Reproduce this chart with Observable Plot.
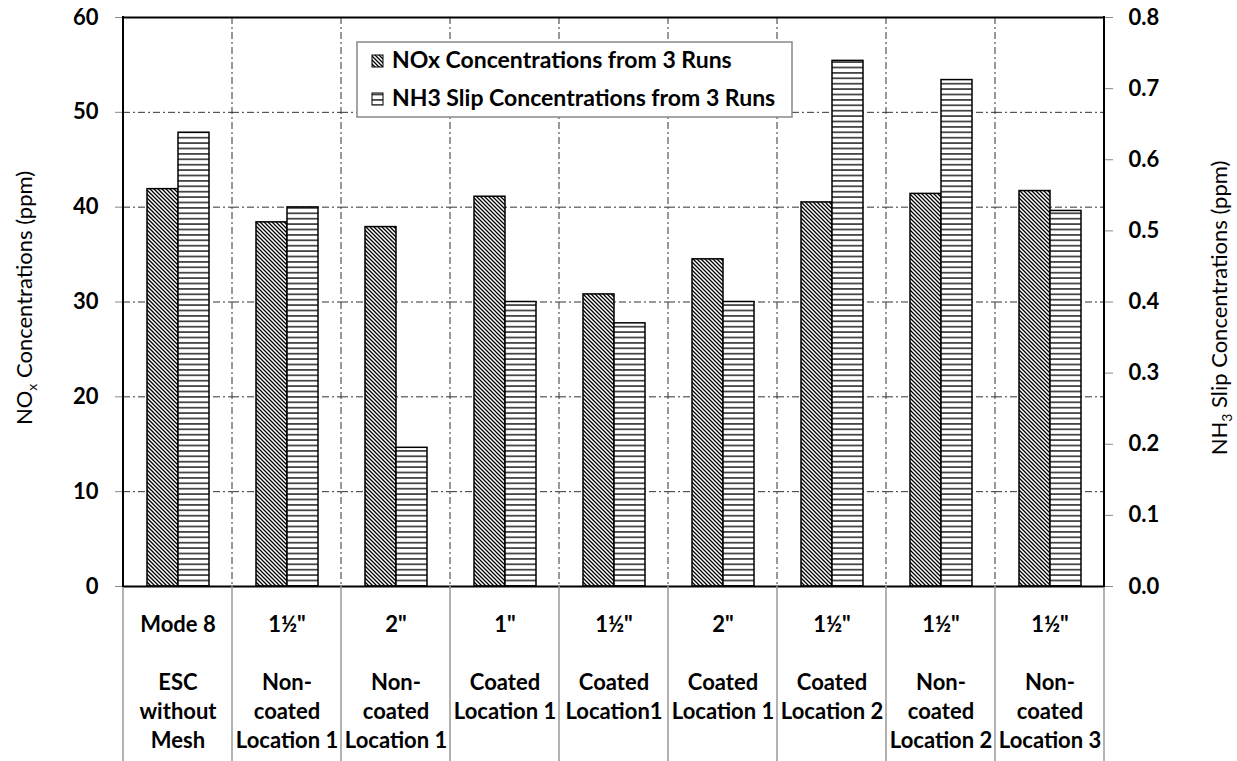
<!DOCTYPE html>
<html><head><meta charset="utf-8">
<script src="https://cdn.jsdelivr.net/npm/d3@7"></script>
<script src="https://cdn.jsdelivr.net/npm/@observablehq/plot@0.6"></script>
<style>body{margin:0;background:#fff} svg{display:block}</style>
</head><body><div id="chart"></div>
<script>
// ---- data ----
const sizes = ["Mode 8", "1½\"", "2\"", "1\"", "1½\"", "2\"", "1½\"", "1½\"", "1½\""];
const configs = [
  "ESC\nwithout\nMesh",
  "Non-\ncoated\nLocation 1",
  "Non-\ncoated\nLocation 1",
  "Coated\nLocation 1",
  "Coated\nLocation1",
  "Coated\nLocation 1",
  "Coated\nLocation 2",
  "Non-\ncoated\nLocation 2",
  "Non-\ncoated\nLocation 3"
];
const noxPpm = [41.9, 38.4, 37.9, 41.1, 30.8, 34.5, 40.5, 41.4, 41.7];
const nh3Ppm = [0.638, 0.533, 0.195, 0.400, 0.370, 0.400, 0.739, 0.712, 0.528];
const seriesKeys = ["NOx", "NH3"];
const seriesNames = ["NOx Concentrations from 3 Runs", "NH3 Slip Concentrations from 3 Runs"];
const leftTicks = [0, 10, 20, 30, 40, 50, 60];
const rightTicks = [0, 0.1, 0.2, 0.3, 0.4, 0.5, 0.6, 0.7, 0.8];
const leftMax = 60, rightMax = 0.8;
const k = leftMax / rightMax; // NH3 -> left scale

const rows = [];
noxPpm.forEach((v, i) => rows.push({cat: i, series: "NOx", value: v, y: v}));
nh3Ppm.forEach((v, i) => rows.push({cat: i, series: "NH3", value: v, y: v * k}));

const font = "Lato, 'Open Sans', sans-serif";
const dash = "7,3,2,3";

const plot = Plot.plot({
  width: 1237, height: 761,
  marginLeft: 122, marginRight: 133, marginTop: 17, marginBottom: 175,
  style: {fontFamily: font, fontSize: "22px", fontWeight: "bold", color: "#000", background: "#fff"},
  fx: {domain: sizes.map((_, i) => i), padding: 0, label: null, axis: null},
  x: {domain: seriesKeys, paddingInner: 0, paddingOuter: 0.758, axis: null, label: null},
  y: {domain: [0, leftMax], label: null, axis: null},
  color: {domain: seriesKeys, range: ["url(#hatchNOx)", "url(#hatchNH3)"]},
  marks: [
    Plot.ruleY(leftTicks.slice(1, -1), {stroke: "#333", strokeWidth: 1, strokeDasharray: dash}),
    Plot.barY(rows, {fx: "cat", x: "series", y: "y", fill: "series", stroke: "#000", strokeWidth: 1.5}),
    Plot.ruleY([0, leftMax], {stroke: "#000", strokeWidth: 2}),
    Plot.axisY(leftTicks, {anchor: "left", tickSize: 8, tickPadding: 17, stroke: "#888", fill: "#000", fontSize: 22, label: null}),
    Plot.axisY(rightTicks.map(v => v * k), {anchor: "right", tickSize: 8, tickPadding: 16, stroke: "#888", fill: "#000", fontSize: 22, label: null, tickFormat: d => (d / k).toFixed(1)}),
    Plot.axisFx({anchor: "bottom", tickSize: 0, tickPadding: 25, lineHeight: 1.32, fontSize: 22, fill: "#000", label: null,
      tickFormat: i => sizes[i] + "\n\n" + configs[i]})
  ]
});

const svg = d3.select(plot);
const defs = svg.insert("defs", ":first-child");
const pA = defs.append("pattern").attr("id", "hatchNOx").attr("patternUnits", "userSpaceOnUse")
  .attr("width", 4).attr("height", 4);
pA.append("rect").attr("width", 4).attr("height", 4).attr("fill", "#fff");
pA.append("path").attr("d", "M-1,-1L5,5M-1,3L1,5M3,-1L5,1").attr("stroke", "#000").attr("stroke-width", 1.3);
const pB = defs.append("pattern").attr("id", "hatchNH3").attr("patternUnits", "userSpaceOnUse")
  .attr("width", 5).attr("height", 5.4);
pB.append("rect").attr("width", 5).attr("height", 5.4).attr("fill", "#fff");
pB.append("path").attr("d", "M-1,2.7H6").attr("stroke", "#000").attr("stroke-width", 1.3);

// category boundary lines from the fx scale
const fx = plot.scale("fx");
const y = plot.scale("y");
const bw = fx.bandwidth;
const x0s = fx.domain.map(d => fx.apply(d));
const bounds = x0s.concat([x0s[x0s.length - 1] + bw]);
const yTop = y.apply(leftMax), yBot = y.apply(0);
const under = svg.insert("g", "g").attr("class", "vgrid");
under.selectAll("line").data(bounds.slice(1, -1)).join("line")
  .attr("x1", d => d).attr("x2", d => d).attr("y1", yTop).attr("y2", yBot)
  .attr("stroke", "#333").attr("stroke-dasharray", dash);
const over = svg.append("g");
over.selectAll("line.bot").data(bounds).join("line").attr("class", "bot")
  .attr("x1", d => d).attr("x2", d => d).attr("y1", yBot).attr("y2", 761)
  .attr("stroke", "#999").attr("stroke-width", 1.5);
over.selectAll("line.ax").data([bounds[0], bounds[bounds.length - 1]]).join("line").attr("class", "ax")
  .attr("x1", d => d).attr("x2", d => d).attr("y1", yTop - 1).attr("y2", yBot + 1)
  .attr("stroke", "#000").attr("stroke-width", 2);

// axis titles
function title(x, cy, parts) {
  const t = svg.append("text").attr("transform", `translate(${x},${cy}) rotate(-90)`)
    .attr("text-anchor", "middle").attr("font-family", font).attr("font-size", 22)
    .attr("font-weight", "normal").attr("fill", "#000");
  t.append("tspan").text(parts[0]);
  t.append("tspan").attr("font-size", 14).attr("dy", 5).text(parts[1]);
  t.append("tspan").attr("dy", -5).text(parts[2]);
}
title(32, 298, ["NO", "x", " Concentrations (ppm)"]);
title(1227, 308, ["NH", "3", " Slip Concentrations (ppm)"]);

// legend
const lg = svg.append("g").attr("font-family", font).attr("font-size", 23).attr("font-weight", "bold")
  .attr("text-anchor", "start");
lg.append("rect").attr("x", 357).attr("y", 42).attr("width", 435).attr("height", 75)
  .attr("fill", "#fff").attr("stroke", "#888").attr("stroke-width", 1.5);
seriesKeys.forEach((s, i) => {
  lg.append("rect").attr("x", 372).attr("y", 55 + i * 38).attr("width", 11).attr("height", 12)
    .attr("fill", `url(#hatch${s})`).attr("stroke", "#000").attr("stroke-width", 1);
  lg.append("text").attr("x", 392).attr("y", 68 + i * 38).attr("fill", "#000").text(seriesNames[i]);
});

document.getElementById("chart").appendChild(plot);
</script>
</body></html>
